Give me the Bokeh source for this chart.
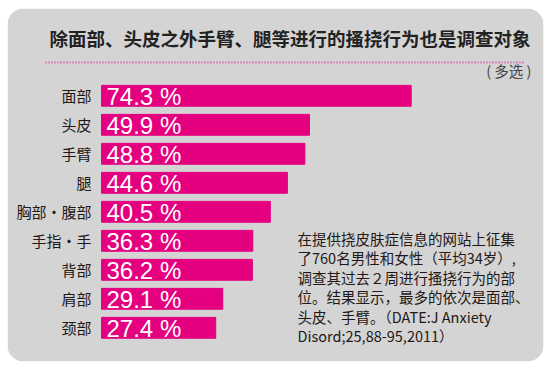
from bokeh.plotting import figure
from bokeh.models import ColumnDataSource, Range1d, BoxAnnotation, Label
from bokeh.core.properties import value
from bokeh.embed import file_html
from bokeh.resources import INLINE

# ---- data ----
categories = ["面部", "头皮", "手臂", "腿", "胸部・腹部", "手指・手", "背部", "肩部", "颈部"]
values = [74.3, 49.9, 48.8, 44.6, 40.5, 36.3, 36.2, 29.1, 27.4]
value_labels = [f"{v} %" for v in values]
title_text = "除面部、头皮之外手臂、腿等进行的搔挠行为也是调查对象"
note_text = "( 多选 )"
para_lines = [
    "在提供挠皮肤症信息的网站上征集",
    "了760名男性和女性（平均34岁）,",
    "调查其过去２周进行搔挠行为的部",
    "位。结果显示，最多的依次是面部、",
    "头皮、手臂。（DATE:J Anxiety",
    "Disord;25,88-95,2011）",
]

PINK = "#E4007F"
GRAY = "#D4D4D4"
DARK = "#231815"
CJK = "Noto Sans CJK SC"

W, H = 550, 368
ML, MR, MT, MB = 7, 7, 8, 7          # panel inset inside the canvas
FW, FH = W - ML - MR, H - MT - MB    # frame (panel) size
BAR_X0 = 101 - ML                    # px of value 0 inside frame
PX_PER = 4.168                       # px per percent
ROW0, ROW_STEP = 95.3 - MT, 29.0     # px centre of first row, row pitch

x_start = -BAR_X0 / PX_PER
x_end = (FW - BAR_X0) / PX_PER
y_top = -ROW0 / ROW_STEP
y_bot = (FH - ROW0) / ROW_STEP

def px_to_x(px):   # page px -> data x
    return (px - ML - BAR_X0) / PX_PER

def py_to_y(py):   # page px -> data y
    return (py - MT - ROW0) / ROW_STEP

src = ColumnDataSource(dict(y=list(range(len(categories))), cat=categories,
                            val=values, lab=value_labels))

p = figure(width=W, height=H, output_backend="svg", toolbar_location=None,
           x_range=Range1d(x_start, x_end), y_range=Range1d(y_bot, y_top),
           x_axis_location=None, y_axis_location=None,
           min_border_left=ML, min_border_right=MR,
           min_border_top=MT, min_border_bottom=MB)
p.grid.visible = False
p.outline_line_color = None
p.background_fill_color = "white"
p.border_fill_color = "white"

panel = BoxAnnotation(fill_color=GRAY, fill_alpha=1.0, line_color=None,
                      border_radius=16, level="underlay")
p.add_layout(panel)

p.hbar(y="y", left=0, right="val", height=0.72, color=PINK, source=src)

p.text(x=0, y="y", text="cat", source=src, x_offset=-10,
       text_align="right", text_baseline="middle",
       text_font=value(CJK), text_font_size="15px", text_color=DARK)
p.text(x=0, y="y", text="lab", source=src, x_offset=5, y_offset=1,
       text_align="left", text_baseline="middle",
       text_font=value("Liberation Sans"), text_font_size="24px",
       text_color="white")

# title
p.add_layout(Label(x=42, y=H - 44, x_units="screen", y_units="screen",
                   text=title_text, text_font=CJK, text_font_size="18.5px",
                   text_font_style="bold", text_color="#222222",
                   text_baseline="middle", text_align="left"))
# dotted rule under the title
p.line(x=[px_to_x(45), px_to_x(523)], y=[py_to_y(62), py_to_y(62)],
       line_color=PINK, line_width=2, line_dash="1 2", line_alpha=0.7)
p.add_layout(Label(x=524, y=H - 77, x_units="screen", y_units="screen",
                   text=note_text, text_font=CJK, text_font_size="14.5px",
                   text_color="#444444", text_baseline="middle", text_align="right"))
# paragraph
p.add_layout(Label(x=290, y=H - 234, x_units="screen", y_units="screen",
                   text="\n".join(para_lines), text_font=CJK, text_font_size="14.5px",
                   text_line_height=0.93, text_color=DARK,
                   text_baseline="top", text_align="left"))

open("out.html", "w").write(file_html(p, INLINE))
